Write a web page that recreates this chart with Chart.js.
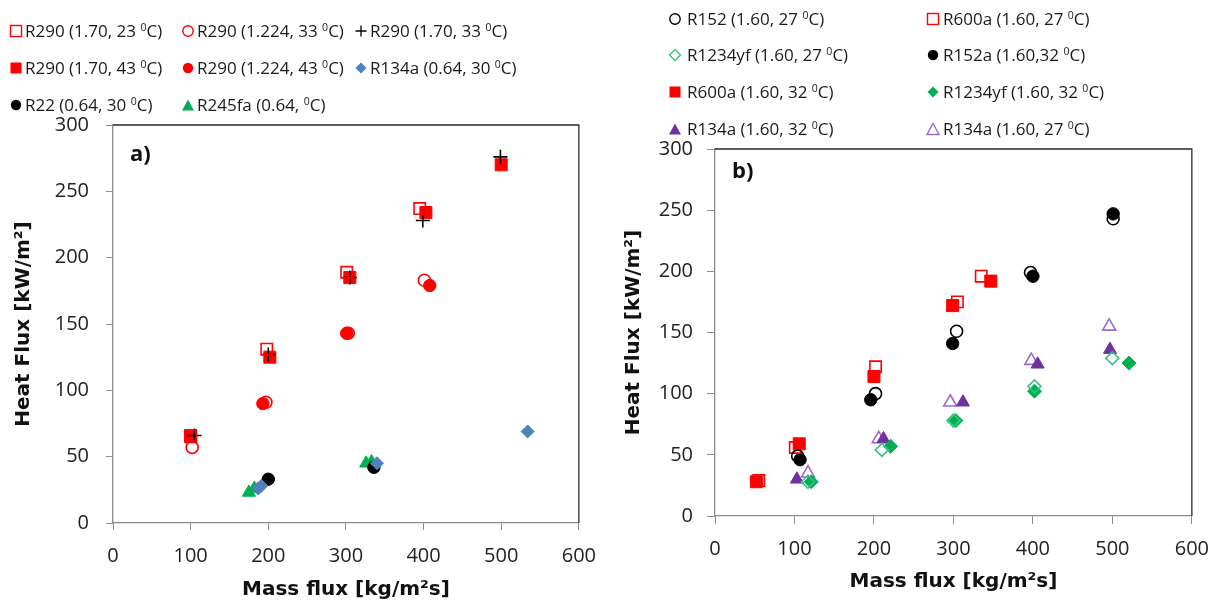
<!DOCTYPE html>
<html>
<head>
<meta charset="utf-8">
<script src="https://cdn.jsdelivr.net/npm/chart.js@4.4.0/dist/chart.umd.min.js"></script>
<style>
  body { margin: 0; background: #fff; width: 1222px; height: 606px; overflow: hidden; position: relative; font-family: 'Open Sans', sans-serif; }
  canvas { position: absolute; top: 0; }
  #chartA { left: 0; }
  #chartB { left: 610px; }
  .leg { position: absolute; height: 20px; line-height: 20px; font-size: 17px; color: #1a1a1a; white-space: nowrap; }
  .mk { position: absolute; width: 14px; height: 14px; }
  sup { font-size: 0.62em; line-height: 0; vertical-align: 0.55em; }
</style>
</head>
<body>
<canvas id="chartA" width="610" height="606"></canvas>
<canvas id="chartB" width="612" height="606"></canvas>
<div id="legendA"></div>
<div id="legendB"></div>
<script>
// ---- panel a: R290 and reference fluids ----
const labelsA = ['R290 (1.70, 23 ⁰C)', 'R290 (1.224, 33 ⁰C)', 'R290 (1.70, 33 ⁰C)',
  'R290 (1.70, 43 ⁰C)', 'R290 (1.224, 43 ⁰C)', 'R134a (0.64, 30 ⁰C)',
  'R22 (0.64, 30 ⁰C)', 'R245fa (0.64, ⁰C)'];
const r290_170_23 = [[100, 66], [198, 131], [301, 189], [395, 237]];
const r290_1224_33 = [[102, 57], [197, 91], [303, 143], [401, 183]];
const r290_170_33 = [[105, 66], [200, 127], [305, 185], [399, 228], [499, 276]];
const r290_170_43 = [[100, 65], [202, 125], [305, 185], [403, 234], [500, 270]];
const r290_1224_43 = [[193, 90], [301, 143], [408, 179]];
const r134a_064_30 = [[187, 26], [191, 28], [340, 45], [534, 69]];
const r22_064_30 = [[200, 33], [336, 42]];
const r245fa_064 = [[175, 23], [182, 26], [326, 45], [333, 46]];

// ---- panel b: low-GWP fluids ----
const labelsB = ['R152 (1.60, 27 ⁰C)', 'R600a (1.60, 27 ⁰C)', 'R1234yf (1.60, 27 ⁰C)',
  'R152a (1.60,32 ⁰C)', 'R600a (1.60, 32 ⁰C)', 'R1234yf (1.60, 32 ⁰C)',
  'R134a (1.60, 32 ⁰C)', 'R134a (1.60, 27 ⁰C)'];
const r152_27 = [[104, 49], [202, 100], [304, 151], [397, 199], [501, 243]];
const r600a_27 = [[55, 29], [101, 56], [202, 122], [305, 175], [335, 196]];
const r1234yf_27 = [[117, 28], [210, 54], [300, 78], [402, 106], [500, 129]];
const r152a_32 = [[107, 46], [196, 95], [299, 141], [400, 196], [501, 247]];
const r600a_32 = [[52, 28], [106, 59], [200, 114], [299, 172], [347, 192]];
const r1234yf_32 = [[121, 28], [221, 57], [303, 78], [402, 102], [521, 125]];
const r134a_32 = [[103, 30], [212, 63], [312, 93], [406, 124], [497, 136]];
const r134a_27 = [[117, 35], [206, 63], [296, 93], [398, 127], [496, 155]];

const xTicks = [0, 100, 200, 300, 400, 500, 600];
const yTicks = [0, 50, 100, 150, 200, 250, 300];

const RED = '#ff0000', BLACK = '#000000', BLUE = '#4f81bd', GREEN = '#00b050',
  PURPLE = '#7030a0', LILAC = '#9a6ccc', MINT = '#3cc081';

// marker look for each series, same order as the labels
const stylesA = [
  { shape: 'rect', color: RED, filled: false, r: 8 },
  { shape: 'circle', color: RED, filled: false, r: 6 },
  { shape: 'cross', color: BLACK, filled: false, r: 7 },
  { shape: 'rect', color: RED, filled: true, r: 8.5 },
  { shape: 'circle', color: RED, filled: true, r: 6.2 },
  { shape: 'rectRot', color: BLUE, filled: true, r: 6.5 },
  { shape: 'circle', color: BLACK, filled: true, r: 6.2 },
  { shape: 'triangle', color: GREEN, filled: true, r: 7.5 }
];
const stylesB = [
  { shape: 'circle', color: BLACK, filled: false, r: 6 },
  { shape: 'rect', color: RED, filled: false, r: 8 },
  { shape: 'rectRot', color: MINT, filled: false, r: 6.5 },
  { shape: 'circle', color: BLACK, filled: true, r: 6.2 },
  { shape: 'rect', color: RED, filled: true, r: 8.5 },
  { shape: 'rectRot', color: GREEN, filled: true, r: 7 },
  { shape: 'triangle', color: PURPLE, filled: true, r: 7.5 },
  { shape: 'triangle', color: LILAC, filled: false, r: 7.5 }
];

const seriesA = [r290_170_23, r290_1224_33, r290_170_33, r290_170_43, r290_1224_43, r134a_064_30, r22_064_30, r245fa_064];
const seriesB = [r152_27, r600a_27, r1234yf_27, r152a_32, r600a_32, r1234yf_32, r134a_32, r134a_27];

function makeSet(label, pts, st) {
  return {
    label: label,
    data: pts.map(([x, y]) => ({ x: x, y: y })),
    pointStyle: st.shape,
    pointRadius: st.r,
    pointHoverRadius: st.r,
    pointBackgroundColor: st.filled ? st.color : 'rgba(255,255,255,0)',
    pointBorderColor: st.color,
    pointBorderWidth: st.filled ? 1 : 1.6,
    showLine: false
  };
}

// top and right frame lines plus the panel letter
const framePlugin = {
  id: 'frame',
  beforeDatasetsDraw(chart, args, opts) {
    const { ctx, chartArea: { left, top, right, bottom } } = chart;
    ctx.save();
    ctx.strokeStyle = '#2b2b2b';
    ctx.lineWidth = 1.3;
    ctx.beginPath();
    ctx.moveTo(left, top);
    ctx.lineTo(right, top);
    ctx.lineTo(right, bottom);
    ctx.stroke();
    ctx.font = 'bold 22px "Open Sans"';
    ctx.fillStyle = '#111';
    ctx.textBaseline = 'middle';
    ctx.fillText(opts.tag, left + opts.dx, top + opts.dy);
    ctx.restore();
  }
};

function buildScales(cfg) {
  const tickFont = { family: 'Open Sans', size: 20 };
  const titleFont = { family: 'DejaVu Sans', size: 20, weight: 'bold' };
  return {
    x: {
      type: 'linear', min: 0, max: 600,
      afterBuildTicks: s => { s.ticks = xTicks.map(v => ({ value: v })); },
      afterFit: s => { s.height = cfg.xHeight; },
      ticks: { color: '#222', font: tickFont, padding: cfg.xPad },
      grid: { drawOnChartArea: false, drawTicks: true, tickLength: cfg.tl, color: '#8c8c8c' },
      border: { color: '#8c8c8c', width: 1.3 },
      title: { display: true, text: 'Mass flux [kg/m²s]', color: '#111', font: titleFont, padding: { top: 0, bottom: cfg.xTitlePad } }
    },
    y: {
      type: 'linear', min: 0, max: 300,
      afterBuildTicks: s => { s.ticks = yTicks.map(v => ({ value: v })); },
      afterFit: s => { s.width = cfg.yWidth; },
      ticks: { color: '#222', font: tickFont, padding: cfg.yPad },
      grid: { drawOnChartArea: false, drawTicks: true, tickLength: cfg.tl, color: '#8c8c8c' },
      border: { color: '#8c8c8c', width: 1.3 },
      title: { display: true, text: 'Heat Flux [kW/m²]', color: '#111', font: titleFont, padding: { top: cfg.yTitlePad, bottom: 0 } }
    }
  };
}

function makeChart(id, labels, series, styles, cfg) {
  new Chart(document.getElementById(id), {
    type: 'scatter',
    data: { datasets: series.map((pts, i) => makeSet(labels[i], pts, styles[i])) },
    options: {
      responsive: false,
      animation: false,
      layout: { padding: cfg.padding },
      plugins: {
        legend: { display: false },
        tooltip: { enabled: false },
        frame: { tag: cfg.tag, dx: cfg.tagDx, dy: cfg.tagDy }
      },
      scales: buildScales(cfg)
    },
    plugins: [framePlugin]
  });
}

makeChart('chartA', labelsA, seriesA, stylesA, {
  padding: { top: 125, right: 27, left: 0, bottom: 0 },
  xHeight: 83, yWidth: 113, tl: 7, xPad: 14, yPad: 17,
  xTitlePad: 4, yTitlePad: 12, tag: 'a)', tagDx: 17, tagDy: 30
});
makeChart('chartB', labelsB, seriesB, stylesB, {
  padding: { top: 149, right: 27, left: 0, bottom: 0 },
  xHeight: 90, yWidth: 105, tl: 8, xPad: 13, yPad: 14,
  xTitlePad: 12, yTitlePad: 12, tag: 'b)', tagDx: 17, tagDy: 23
});

// ---- legends (HTML, grid laid out like the plot legends) ----
function markerSvg(st) {
  const fill = st.filled ? st.color : '#fff';
  const sw = st.filled ? 0 : 1.4;
  let shape;
  if (st.shape === 'rect') shape = `<rect x="1.5" y="1.5" width="11" height="11"/>`;
  else if (st.shape === 'circle') shape = `<circle cx="7" cy="7" r="5.2"/>`;
  else if (st.shape === 'triangle') shape = `<polygon points="7,1.5 13,12.5 1,12.5"/>`;
  else if (st.shape === 'rectRot') shape = `<polygon points="7,1.5 12.5,7 7,12.5 1.5,7"/>`;
  else return `<svg class="mk" viewBox="0 0 14 14"><path d="M7 1.5V12.5M1.5 7H12.5" stroke="${st.color}" stroke-width="1.3"/></svg>`;
  return `<svg class="mk" viewBox="0 0 14 14"><g fill="${fill}" stroke="${st.color}" stroke-width="${sw}">${shape}</g></svg>`;
}

function buildLegend(el, labels, styles, markX, textX, rowY) {
  const cols = markX.length;
  labels.forEach((lab, i) => {
    const c = i % cols, r = Math.floor(i / cols);
    const item = document.createElement('div');
    item.className = 'leg';
    item.style.left = (markX[c] - 7) + 'px';
    item.style.top = (rowY[r] - 10) + 'px';
    item.innerHTML = markerSvg(styles[i]).replace('class="mk"', 'class="mk" style="left:0;top:3px"') +
      `<span style="position:absolute;left:${textX[c] - markX[c] + 7}px">${lab.replace('⁰', '<sup>0</sup>')}</span>`;
    el.appendChild(item);
  });
}

buildLegend(document.getElementById('legendA'), labelsA, stylesA, [16, 188, 360.5], [25, 197, 370], [30.5, 67.5, 105]);
buildLegend(document.getElementById('legendB'), labelsB, stylesB, [675, 933], [687, 943], [18.5, 55, 92, 128.5]);
</script>
</body>
</html>
